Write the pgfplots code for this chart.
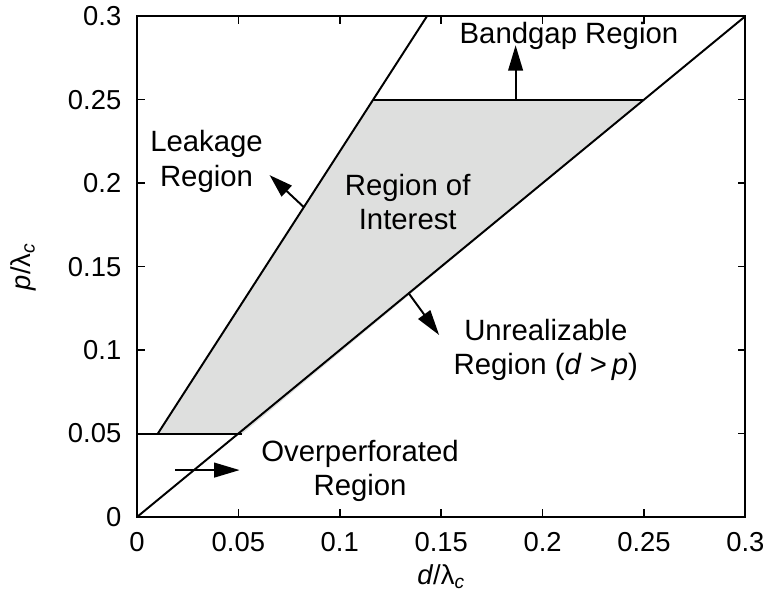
\documentclass[border={2pt 5pt -2pt 0pt}]{standalone}
\usepackage{pgfplots}
\pgfplotsset{compat=1.18}
\usepackage{fontspec}
\setmainfont{Liberation Sans}
\usetikzlibrary{arrows.meta}
\definecolor{roi}{RGB}{222,223,222}
\begin{document}
\begin{tikzpicture}
\begin{axis}[
  scale only axis,
  width=311pt, height=256pt,
  xmin=0, xmax=0.3, ymin=0, ymax=0.3,
  xtick={0,0.05,0.1,0.15,0.2,0.25,0.3},
  ytick={0,0.05,0.1,0.15,0.2,0.25,0.3},
  xticklabels={0,0.05,0.1,0.15,0.2,0.25,0.3},
  yticklabels={0,0.05,0.1,0.15,0.2,0.25,0.3},
  tick align=inside,
  major tick length=4pt,
  tick style={black, line width=0.8pt},
  axis line style={line width=0.9pt},
  ticklabel style={font=\fontsize{14}{16}\selectfont},
  xticklabel style={yshift=-4.5pt},
  yticklabel style={xshift=-4.5pt},
  /pgf/number format/assume math mode=true,
  xlabel={\textit{d}/λ\textsubscript{\textit{c}}},
  ylabel={\textit{p}/λ\textsubscript{\textit{c}}},
  label style={font=\fontsize{14}{16}\selectfont},
  xlabel style={yshift=0.5pt},
  ylabel style={yshift=9.5pt},
  clip=false,
]
% region of interest
\addplot[fill=roi, draw=none] coordinates {(0.0103,0.05) (0.052,0.05) (0.25,0.25) (0.1165,0.25)} -- cycle;
% boundaries
\addplot[black, line width=1pt] coordinates {(0,0) (0.3,0.3)};
\addplot[black, line width=1pt] coordinates {(0.0103,0.05) (0.143,0.3)};
\addplot[black, line width=1pt] coordinates {(0.1165,0.25) (0.25,0.25)};
\addplot[black, line width=1pt] coordinates {(0,0.05) (0.052,0.05)};
% arrows
\addplot[black, line width=1pt, -{Triangle[length=13pt,width=7.5pt]}] coordinates {(0.1867,0.25) (0.1867,0.2826)};
\addplot[black, line width=1pt, -{Triangle[length=12pt,width=7.5pt]}] coordinates {(0.0823,0.1856) (0.0654,0.2048)};
\addplot[black, line width=1pt, -{Triangle[length=13pt,width=7.5pt]}] coordinates {(0.134,0.134) (0.149,0.109)};
\addplot[black, line width=1pt, -{Triangle[length=13pt,width=7.5pt]}] coordinates {(0.0188,0.0281) (0.0506,0.0281)};
% labels
\tikzset{lbl/.style={align=center, font=\fontsize{15}{17.7}\selectfont, inner sep=0pt}}
\node[lbl] at (axis cs:0.213,0.288) {Bandgap Region};
\node[lbl] at (axis cs:0.0343,0.213) {Leakage\\Region};
\node[lbl] at (axis cs:0.1335,0.1886) {Region of\\Interest};
\node[lbl] at (axis cs:0.2016,0.100) {Unrealizable\\Region (\textit{d} \textgreater\,\textit{p})};
\node[lbl] at (axis cs:0.110,0.0275) {Overperforated\\Region};
\end{axis}
\end{tikzpicture}
\end{document}
